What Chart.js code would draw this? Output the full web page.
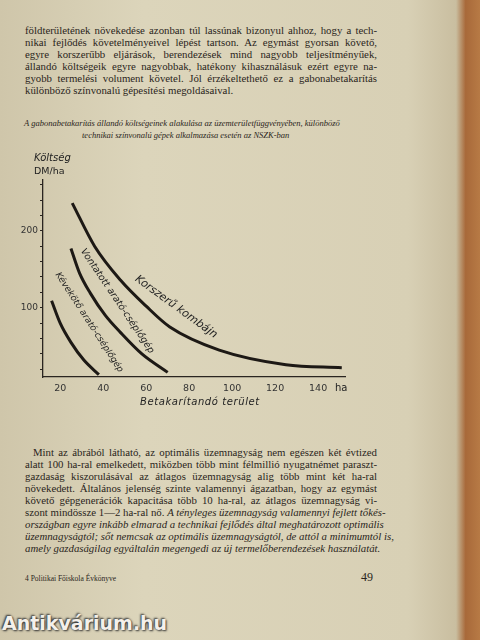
<!DOCTYPE html>
<html><head><meta charset="utf-8">
<script src="https://cdn.jsdelivr.net/npm/chart.js@4"></script>
<style>
body{margin:0;width:480px;height:640px;overflow:hidden;position:relative;
background:linear-gradient(to right,#cfc6aa 0,#dcd5bb 30%,#d8d0b5 85%,#c9bea0 95%,#a8693a 97%,#b77a45 100%);
font-family:"Liberation Serif",serif;color:#2a2520}
.t{position:absolute;left:25px;width:352px;font-size:10.8px;text-align:justify;text-align-last:justify;white-space:nowrap}
.last{text-align-last:left}
.cap{position:absolute;font-style:italic;font-size:8.5px;white-space:nowrap}
.c{position:absolute;font-family:"DejaVu Sans",sans-serif;font-style:italic;white-space:nowrap;color:#222;transform-origin:center}
#wrap{position:absolute;left:0;top:140px;width:360px;height:270px}
.wm{position:absolute;left:2px;top:612px;font-family:"DejaVu Sans",sans-serif;font-weight:bold;font-size:19px;color:#f4f0ea;text-shadow:1px 1px 2px #333,-1px -1px 2px #333}
</style></head><body>
<div class="t" style="top:24px">földterületének növekedése azonban túl lassúnak bizonyul ahhoz, hogy a tech-</div>
<div class="t" style="top:36px">nikai fejlődés követelményeivel lépést tartson. Az egymást gyorsan követő,</div>
<div class="t" style="top:48px">egyre korszerűbb eljárások, berendezések mind nagyobb teljesítményűek,</div>
<div class="t" style="top:60px">állandó költségeik egyre nagyobbak, hatékony kihasználásuk ezért egyre na-</div>
<div class="t" style="top:72px">gyobb termelési volument követel. Jól érzékeltethető ez a gabonabetakarítás</div>
<div class="t last" style="top:84px">különböző színvonalú gépesítési megoldásaival.</div>

<div class="cap" style="left:24px;top:118px">A gabonabetakarítás állandó költségeinek alakulása az üzemterületfüggvényében, különböző</div>
<div class="cap" style="left:82px;top:130px">technikai színvonalú gépek alkalmazása esetén az NSZK-ban</div>

<div id="wrap"><canvas id="c"></canvas></div>
<div class="c" style="left:34px;top:152px;font-size:10px">Költség</div>
<div class="c" style="left:34px;top:165px;font-size:9.5px;font-style:normal">DM/ha</div>
<div class="c" style="left:140px;top:396px;font-size:10px;letter-spacing:0.6px">Betakarítandó terület</div>
<div class="c" style="left:335px;top:382px;font-size:10px;font-style:normal">ha</div>
<div class="c" style="left:127px;top:300px;font-size:11px;transform:rotate(36deg)">Korszerű kombájn</div>
<div class="c" style="left:56px;top:295px;font-size:9.5px;transform:rotate(56deg)">Vontatott arató-cséplőgép</div>
<div class="c" style="left:31px;top:317px;font-size:9px;transform:rotate(57deg)">Kévekötő arató-cséplőgép</div>

<div class="t" style="top:446px;left:33px;width:344px">Mint az ábrából látható, az optimális üzemnagyság nem egészen két évtized</div>
<div class="t" style="top:458px">alatt 100 ha-ral emelkedett, miközben több mint félmillió nyugatnémet paraszt-</div>
<div class="t" style="top:470px">gazdaság kiszorulásával az átlagos üzemnagyság alig több mint két ha-ral</div>
<div class="t" style="top:482px">növekedett. Általános jelenség szinte valamennyi ágazatban, hogy az egymást</div>
<div class="t" style="top:494px">követő gépgenerációk kapacitása több 10 ha-ral, az átlagos üzemnagyság vi-</div>
<div class="t" style="top:506px">szont mindössze 1—2 ha-ral nő. <i>A tényleges üzemnagyság valamennyi fejlett tőkés-</i></div>
<div class="t" style="top:518px"><i>országban egyre inkább elmarad a technikai fejlődés által meghatározott optimális</i></div>
<div class="t" style="top:530px"><i>üzemnagyságtól; sőt nemcsak az optimális üzemnagyságtól, de attól a minimumtól is,</i></div>
<div class="t last" style="top:542px"><i>amely gazdaságilag egyáltalán megengedi az új termelőberendezések használatát.</i></div>
<div style="position:absolute;left:25px;top:574px;font-size:7.5px">4 Politikai Főiskola Évkönyve</div>
<div style="position:absolute;left:361px;top:570px;font-size:12px">49</div>
<div class="wm">Antikvárium.hu</div>
<script>
const xTicks = [20, 40, 60, 80, 100, 120, 140];
const yTicks = [20, 40, 60, 80, 100, 120, 140, 160, 180, 200, 220, 240, 260];
const yLabels = [100, 200];

const kombajnX = [25.6, 36, 48, 60, 71, 94, 125, 151];
const kombajnY = [236, 180, 136, 102, 75, 45, 26, 22];
const vontatottX = [25, 29, 34, 41, 48, 58, 70];
const vontatottY = [177, 145, 119, 90, 68, 40, 16];
const kevekotoX = [16, 20, 25, 31, 38];
const kevekotoY = [109, 80, 55, 32, 13];

function pts(xs, ys) { return xs.map((x, i) => ({ x: x, y: ys[i] })); }
function ds(xs, ys) {
    return { data: pts(xs, ys), showLine: true, borderColor: '#1d1915', borderWidth: 3,
        pointRadius: 0, cubicInterpolationMode: 'monotone', fill: false };
}

new Chart(document.getElementById('c'), {
    type: 'scatter',
    data: { datasets: [ds(kombajnX, kombajnY), ds(vontatottX, vontatottY), ds(kevekotoX, kevekotoY)] },
    options: {
        responsive: true, maintainAspectRatio: false, animation: false,
        layout: { padding: { left: 0, top: 40, right: 15, bottom: 0 } },
        plugins: { legend: { display: false }, tooltip: { enabled: false } },
        scales: {
            x: {
                type: 'linear', min: 12, max: 152.5,
                afterFit: s => { s.height = 33; },
                afterBuildTicks: s => { s.ticks = xTicks.map(v => ({ value: v })); },
                grid: { drawOnChartArea: false, drawTicks: false },
                border: { color: '#2a2520', width: 1.3 },
                ticks: { color: '#333', padding: 6, font: { family: 'DejaVu Sans', size: 9.5 } }
            },
            y: {
                type: 'linear', min: 10, max: 266,
                afterFit: s => { s.width = 43; },
                afterBuildTicks: s => { s.ticks = yTicks.map(v => ({ value: v })); },
                grid: { drawOnChartArea: false, tickLength: 3, color: '#2a2520' },
                border: { color: '#2a2520', width: 1.3 },
                ticks: { color: '#333', padding: 2, font: { family: 'DejaVu Sans', size: 9 },
                    callback: v => yLabels.includes(v) ? String(v) : '' }
            }
        }
    }
});
</script>
</body></html>
